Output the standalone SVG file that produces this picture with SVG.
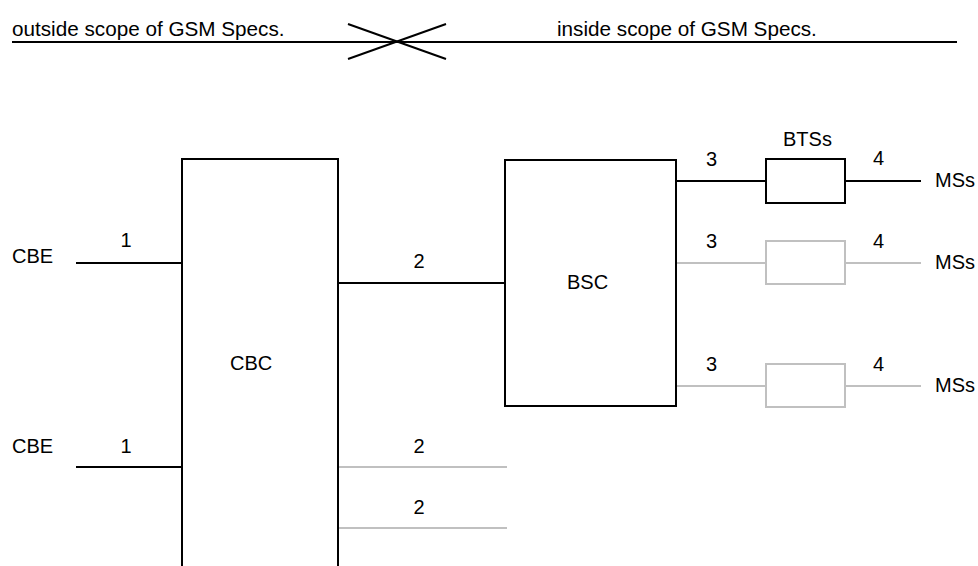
<svg xmlns="http://www.w3.org/2000/svg" width="978" height="566" viewBox="0 0 978 566">
<style>
text{font-family:"Liberation Sans",Arial,sans-serif;font-size:20px;fill:#000}
.t{font-size:20.7px}
.k{stroke:#000;stroke-width:2;fill:none}
.g{stroke:#c0c0c0;stroke-width:2;fill:none}
.m{text-anchor:middle}
</style>
<rect width="978" height="566" fill="#fff"/>
<g id="scope">
<line class="k" x1="12" y1="42" x2="957" y2="42"/>
<line class="k" x1="348" y1="24" x2="446" y2="59"/>
<line class="k" x1="348" y1="59" x2="446" y2="24"/>
<text class="t" x="12" y="36">outside scope of GSM Specs.</text>
<text class="t" x="557" y="36">inside scope of GSM Specs.</text>
</g>
<g id="connectors">
<line class="k" x1="76" y1="263" x2="183" y2="263"/>
<line class="k" x1="76" y1="467" x2="183" y2="467"/>
<line class="k" x1="338" y1="283" x2="506" y2="283"/>
<line class="g" x1="339" y1="467" x2="507" y2="467"/>
<line class="g" x1="339" y1="528" x2="507" y2="528"/>
<line class="k" x1="676" y1="181" x2="766" y2="181"/>
<line class="k" x1="845" y1="181" x2="921" y2="181"/>
<line class="g" x1="676" y1="263" x2="766" y2="263"/>
<line class="g" x1="845" y1="263" x2="921" y2="263"/>
<line class="g" x1="676" y1="386" x2="766" y2="386"/>
<line class="g" x1="845" y1="386" x2="921" y2="386"/>
<text class="m" x="126" y="247">1</text>
<text class="m" x="126" y="453">1</text>
<text class="m" x="419" y="268">2</text>
<text class="m" x="419" y="453">2</text>
<text class="m" x="419" y="514">2</text>
<text x="706" y="166">3</text>
<text x="873" y="165">4</text>
<text x="706" y="248">3</text>
<text x="873" y="248">4</text>
<text x="706" y="371">3</text>
<text x="873" y="371">4</text>
</g>
<g id="cbe1"><text x="12" y="263">CBE</text></g>
<g id="cbe2"><text x="12" y="453">CBE</text></g>
<g id="cbc">
<rect class="k" x="182" y="159" width="156" height="420"/>
<text x="230" y="370">CBC</text>
</g>
<g id="bsc">
<rect class="k" x="505" y="160" width="171" height="246"/>
<text x="567" y="289">BSC</text>
</g>
<g id="bts1">
<rect class="k" x="766" y="159" width="79" height="44"/>
<text x="783" y="146">BTSs</text>
</g>
<g id="bts2"><rect class="g" x="766" y="241" width="79" height="43"/></g>
<g id="bts3"><rect class="g" x="766" y="364" width="79" height="43"/></g>
<g id="ms1"><text x="935" y="187">MSs</text></g>
<g id="ms2"><text x="935" y="269">MSs</text></g>
<g id="ms3"><text x="935" y="392">MSs</text></g>
</svg>
